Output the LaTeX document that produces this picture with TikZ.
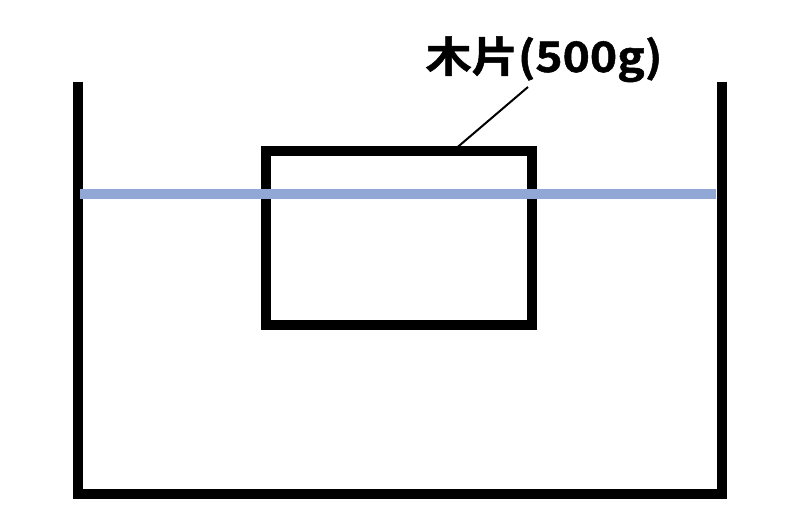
\documentclass[tikz,border=0pt]{standalone}
\usepackage{fontspec}
\newfontfamily\cjk{Noto Sans CJK JP}[BoldFont={Noto Sans CJK JP Bold}, BoldFeatures={FakeStretch=1.1, FakeBold=1.2}]
\definecolor{waterblue}{RGB}{145,168,214}
\begin{document}
\begin{tikzpicture}[x=1pt, y=-1pt, wall_style/.style={draw=black, line width=10pt, line join=miter}, block_style/.style={rectangle,draw=black,line width=10pt,inner sep=0pt,minimum width=266pt,minimum height=174pt}, water_style/.style={draw=waterblue, line width=9.5pt}, label_style/.style={font=\cjk\bfseries\fontsize{42}{48}\selectfont, inner sep=0pt, anchor=base}, leader_style/.style={draw=black, line width=2pt}]
      \useasboundingbox (0,0) rectangle (800,521);
      \draw
        (77.5,82) coordinate (wall_top_left)
        (77.5,494.3) coordinate (wall_bottom_left)
        (721.7,494.3) coordinate (wall_bottom_right)
        (721.7,82) coordinate (wall_top_right)
        (80,194) coordinate (water_left)
        (716,194) coordinate (water_right)
        (453,151) coordinate (leader_start)
        (528,87) coordinate (leader_end);
      \node[block_style] (block) at (399,238) {};
      \node[label_style] (label) at (544,72) {木片(500g)};
      \begin{scope}[-]
        \draw[wall_style] (wall_top_left) -- (wall_bottom_left) -- (wall_bottom_right) -- (wall_top_right);
        \draw[water_style] (water_left) -- (water_right);
        \draw[leader_style] (leader_start) -- (leader_end);
      \end{scope}
    \end{tikzpicture}
\end{document}
